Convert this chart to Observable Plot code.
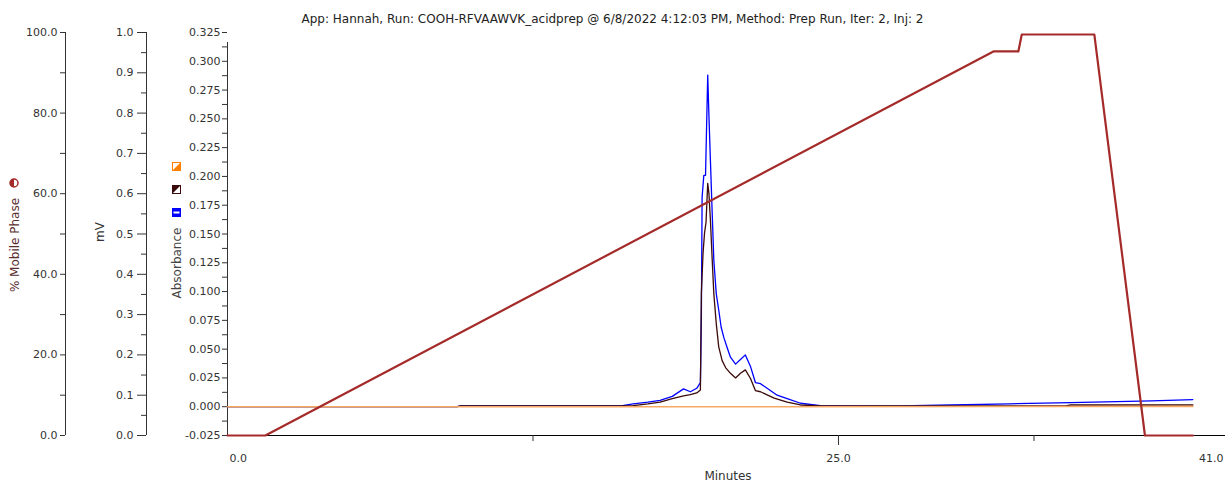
<!DOCTYPE html>
<html>
<head>
<meta charset="utf-8">
<script src="https://cdn.jsdelivr.net/npm/d3@7"></script>
<script src="https://cdn.jsdelivr.net/npm/@observablehq/plot@0.6"></script>
<style>
  html, body { margin: 0; padding: 0; background: #fff; }
  #wrap { position: relative; width: 1225px; height: 482px; overflow: hidden; font-family: "DejaVu Sans", sans-serif; }
  #wrap svg.layer { position: absolute; left: 0; top: 0; }
  .lbl { position: absolute; white-space: nowrap; font-size: 12px; color: #333; }
  .rot { transform: translate(-50%, -50%) rotate(-90deg); }
  .icon { position: absolute; line-height: 0; }
  .icon svg { display: block; }
</style>
</head>
<body>
<div id="wrap"></div>
<script>
// ---------- data ----------
const titleText = "App: Hannah, Run: COOH-RFVAAWVK_acidprep @ 6/8/2022 4:12:03 PM, Method: Prep Run, Iter: 2, Inj: 2";

// Absorbance – blue channel
const blueTime = [0, 9.4, 9.5, 16.1, 16.6, 17.2, 17.7, 18.2, 18.66, 18.94, 19.2, 19.35, 19.39, 19.42, 19.49, 19.56, 19.65, 19.70, 19.76, 19.83, 19.90, 20.00, 20.10, 20.20, 20.31, 20.45, 20.58, 20.79, 20.99, 21.19, 21.40, 21.60, 21.81, 22.08, 22.49, 22.90, 23.45, 24.26, 27.5, 29.6, 32.0, 34.5, 37.8, 39.5];
const blueAbs  = [0, 0, 0.0006, 0.0008, 0.0025, 0.004, 0.0055, 0.009, 0.0155, 0.013, 0.016, 0.021, 0.078, 0.182, 0.201, 0.201, 0.288, 0.252, 0.214, 0.170, 0.127, 0.098, 0.084, 0.069, 0.060, 0.051, 0.043, 0.037, 0.041, 0.045, 0.035, 0.021, 0.020, 0.016, 0.010, 0.007, 0.003, 0.001, 0.0008, 0.0015, 0.0025, 0.0035, 0.005, 0.0062];

// Absorbance – dark channel
const darkTime = [0, 9.4, 9.5, 16.1, 16.6, 17.2, 17.7, 18.2, 18.66, 18.94, 19.2, 19.35, 19.39, 19.46, 19.52, 19.58, 19.65, 19.70, 19.76, 19.83, 19.90, 20.00, 20.10, 20.24, 20.38, 20.58, 20.79, 20.99, 21.19, 21.40, 21.60, 21.81, 22.37, 22.90, 23.45, 24.26, 29.6, 34.3, 34.5, 39.5];
const darkAbs  = [0, 0, 0.0006, 0.0008, 0.001, 0.0025, 0.004, 0.007, 0.0095, 0.0105, 0.012, 0.0145, 0.099, 0.134, 0.151, 0.160, 0.194, 0.185, 0.162, 0.129, 0.098, 0.072, 0.052, 0.040, 0.034, 0.029, 0.025, 0.029, 0.032, 0.0245, 0.014, 0.013, 0.0075, 0.004, 0.0015, 0.0008, 0.0008, 0.0008, 0.0015, 0.0015];

// Absorbance – orange channel
const orangeTime = [0, 20, 39.5];
const orangeAbs  = [0, 0, 0.0003];

// % Mobile phase gradient
const gradTime = [0, 1.55, 31.34, 32.36, 32.5, 35.47, 37.54, 39.5];
const gradPct  = [0, 0, 95.3, 95.3, 99.5, 99.5, 0, 0];

// tick values
const absTicks   = [-0.025, 0, 0.025, 0.05, 0.075, 0.1, 0.125, 0.15, 0.175, 0.2, 0.225, 0.25, 0.275, 0.3, 0.325];
const absMinor   = [-0.0125, 0.0125, 0.0375, 0.0625, 0.0875, 0.1125, 0.1375, 0.1625, 0.1875, 0.2125, 0.2375, 0.2625, 0.2875, 0.3125];
const mvTicks    = [0, 0.1, 0.2, 0.3, 0.4, 0.5, 0.6, 0.7, 0.8, 0.9, 1.0];
const mvMinor    = [0.05, 0.15, 0.25, 0.35, 0.45, 0.55, 0.65, 0.75, 0.85, 0.95];
const pctTicks   = [0, 20, 40, 60, 80, 100];
const pctMinor   = [10, 30, 50, 70, 90];
const xLabelTicks = [0, 25, 41];
const xMinorTicks = [12.5, 33];

// ---------- build ----------
const toRows = (ts, vs) => ts.map((t, i) => ({t, v: vs[i]}));
const blue = toRows(blueTime, blueAbs);
const dark = toRows(darkTime, darkAbs);
const orange = toRows(orangeTime, orangeAbs);
const grad = toRows(gradTime, gradPct);

const W = 1225, H = 482, MT = 32, MB = 47, ML = 227, MR = -4;
const baseStyle = {background: "transparent", fontFamily: "DejaVu Sans, sans-serif", fontSize: "11px", color: "#333", overflow: "visible"};
const wrap = document.getElementById("wrap");
const f1 = d => d.toFixed(1);
const f3 = d => d.toFixed(3);

// % Mobile Phase axis
const pctAxis = Plot.plot({
  width: 130, height: H, marginTop: MT, marginBottom: MB, marginLeft: 65, marginRight: 0,
  x: {domain: [0, 1], axis: null},
  y: {domain: [0, 100]},
  style: baseStyle,
  marks: [
    Plot.ruleX([0], {y1: 0, y2: 100, stroke: "#333"}),
    Plot.axisY({ticks: pctTicks, tickSize: 5, tickPadding: 3, tickFormat: f1, label: null}),
    Plot.axisY({ticks: pctMinor, tickSize: 5, tickFormat: () => "", label: null})
  ]
});

// mV axis
const mvAxis = Plot.plot({
  width: 210, height: H, marginTop: MT, marginBottom: MB, marginLeft: 146, marginRight: 0,
  x: {domain: [0, 1], axis: null},
  y: {domain: [0, 1]},
  style: baseStyle,
  marks: [
    Plot.ruleX([0], {y1: 0, y2: 1, stroke: "#333"}),
    Plot.axisY({ticks: mvTicks, tickSize: 9, tickPadding: 4, tickFormat: f1, label: null}),
    Plot.axisY({ticks: mvMinor, tickSize: 5, tickFormat: () => "", label: null})
  ]
});

// main absorbance plot
const main = Plot.plot({
  width: W, height: H, marginTop: MT, marginBottom: MB, marginLeft: ML, marginRight: MR,
  x: {domain: [0, 41]},
  y: {domain: [-0.025, 0.325]},
  style: baseStyle,
  marks: [
    Plot.ruleY([-0.025], {stroke: "#000"}),
    Plot.ruleX([0], {y1: -0.025, y2: 0.325, insetBottom: -10, stroke: "#333"}),
    Plot.axisY({ticks: absTicks, tickSize: 5, tickPadding: 2, tickFormat: f3, label: null}),
    Plot.axisY({ticks: absMinor, tickSize: 5, tickFormat: () => "", label: null}),
    Plot.axisX({ticks: xMinorTicks, tickSize: 6, tickFormat: () => "", label: null}),
    Plot.axisX({ticks: [xLabelTicks[1]], tickSize: 10, tickPadding: 9, tickFormat: f1, label: null}),
    Plot.axisX({ticks: [xLabelTicks[0]], tickSize: 0, tickPadding: 19, textAnchor: "start", dx: 2, tickFormat: f1, label: null}),
    Plot.axisX({ticks: [xLabelTicks[2]], tickSize: 0, tickPadding: 19, textAnchor: "end", dx: -6, tickFormat: f1, label: null}),
    Plot.line(blue, {x: "t", y: "v", stroke: "#0000ff", strokeWidth: 1.3}),
    Plot.line(dark, {x: "t", y: "v", stroke: "#3b0a0a", strokeWidth: 1.3}),
    Plot.line(orange, {x: "t", y: "v", stroke: "#f7a862", strokeWidth: 1.6})
  ]
});

// gradient (% mobile phase) overlay
const gradPlot = Plot.plot({
  width: W, height: H, marginTop: MT, marginBottom: MB, marginLeft: ML, marginRight: MR,
  x: {domain: [0, 41], axis: null},
  y: {domain: [0, 100], axis: null},
  style: baseStyle,
  marks: [
    Plot.line(grad, {x: "t", y: "v", stroke: "#a52a2a", strokeWidth: 2.2, strokeLinejoin: "round"})
  ]
});

for (const svg of [pctAxis, mvAxis, main, gradPlot]) {
  svg.classList.add("layer");
  wrap.appendChild(svg);
}

// ---------- text & legend ----------
function addLabel(text, left, top, cls, extra) {
  const d = document.createElement("div");
  d.className = "lbl " + (cls || "");
  d.textContent = text;
  d.style.left = left + "px";
  d.style.top = top + "px";
  Object.assign(d.style, extra || {});
  wrap.appendChild(d);
  return d;
}
addLabel(titleText, 0, 12, "", {width: W + "px", textAlign: "center", color: "#222"});
addLabel("Minutes", 728, 476, "", {transform: "translate(-50%, -50%)", color: "#333"});
addLabel("% Mobile Phase", 15, 245, "rot", {color: "#5a2d2d"});
addLabel("mV", 100, 232, "rot", {color: "#333"});
addLabel("Absorbance", 177, 263, "rot", {color: "#444"});

function addIcon(svgInner, left, top, w, h) {
  const d = document.createElement("div");
  d.className = "icon";
  d.style.left = left + "px";
  d.style.top = top + "px";
  d.innerHTML = `<svg width="${w}" height="${h}" viewBox="0 0 ${w} ${h}">${svgInner}</svg>`;
  wrap.appendChild(d);
}
addIcon(`<circle cx="5" cy="5" r="4" fill="#fff" stroke="#a52a2a" stroke-width="1.5"/><path d="M5,1 A4,4 0 0 0 5,9 Z" fill="#a52a2a"/>`, 9, 178, 10, 10);
addIcon(`<rect x="0.5" y="0.5" width="8" height="8" fill="#fff" stroke="#ff8000"/><polygon points="8.5,0.5 8.5,8.5 0.5,8.5" fill="#ff8000"/>`, 172, 162, 10, 10);
addIcon(`<rect x="0.5" y="0.5" width="8" height="8" fill="#fff" stroke="#3b0a0a"/><polygon points="0.5,0.5 8.5,0.5 0.5,8.5" fill="#3b0a0a"/>`, 172, 185, 10, 10);
addIcon(`<rect x="0.5" y="0.5" width="8" height="8" fill="#0000ff" stroke="#0000ff"/><rect x="1.5" y="3.5" width="6" height="2" fill="#fff"/>`, 172, 208, 10, 10);
</script>
</body>
</html>
